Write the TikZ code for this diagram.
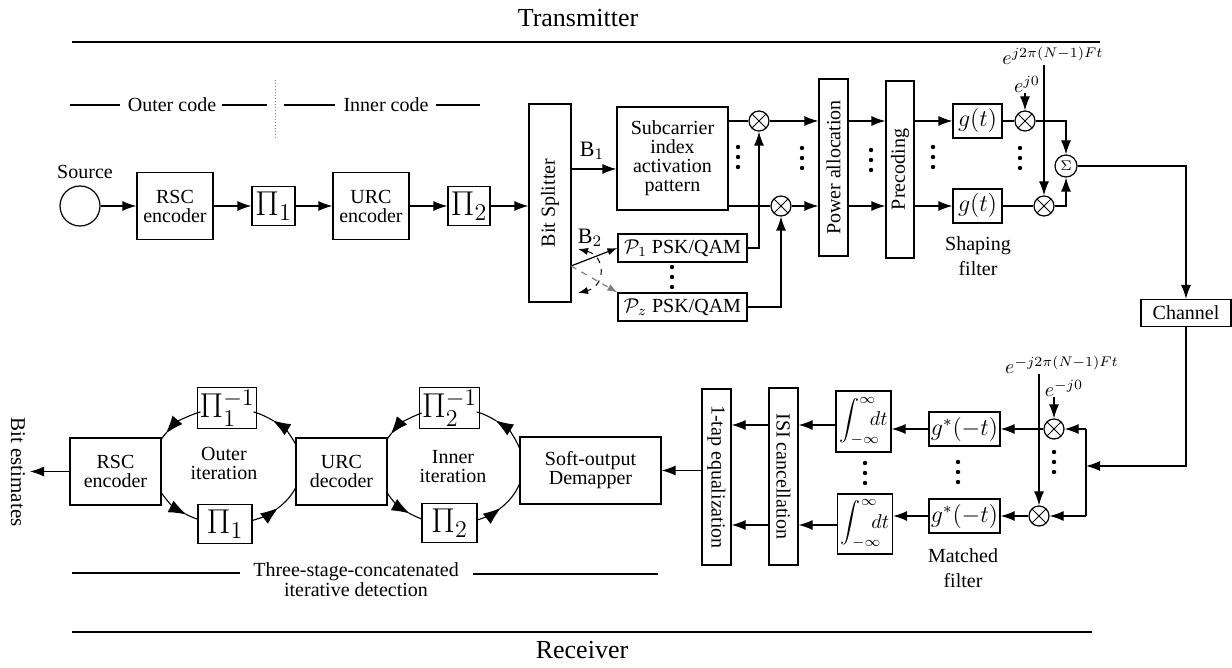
\documentclass[tikz,border=0pt]{standalone}
\usepackage{fontspec}
\usepackage{graphicx}
\setmainfont{Liberation Serif}
\usetikzlibrary{arrows.meta,calc}
\begin{document}
\begin{tikzpicture}[x=0.5pt,y=-0.5pt,line width=0.6pt,
  box/.style={draw,fill=white,inner sep=1pt,align=center,font=\fontsize{10}{9.5}\selectfont},
  pbox/.style={draw,fill=white,inner sep=1pt,font=\LARGE},
  mbox/.style={draw,fill=white,inner sep=1pt,font=\large},
  mul/.style={draw,fill=white,circle,minimum size=10pt,inner sep=0pt,
     path picture={\draw[line width=0.5pt] (path picture bounding box.north west) -- (path picture bounding box.south east) (path picture bounding box.north east) -- (path picture bounding box.south west);}},
  sigbox/.style={draw,fill=white,circle,minimum size=11pt,inner sep=0pt,font=\scriptsize},
  arr/.style={-{Latex[length=7pt,width=5pt]}},
  larr/.style={-{Latex[length=9pt,width=6.5pt]}},
  sarr/.style={-{Latex[length=5pt,width=3.6pt]}},
  loopln/.style={line width=0.55pt},
  lbl/.style={inner sep=0pt,align=center,font=\fontsize{10}{12.5}\selectfont},
  tlbl/.style={inner sep=0pt,align=center,font=\fontsize{10}{9.5}\selectfont},
  vd/.pic={\fill (0,-10) circle (2.2); \fill (0,0) circle (2.2); \fill (0,10) circle (2.2);}
]
\useasboundingbox (0,0) rectangle (1232,668);

% titles
\node[font=\fontsize{13}{15}\selectfont] (tx) at (578,18) {Transmitter};
\draw[line width=0.8pt] (72,42) -- (1100,42);
\node[font=\fontsize{13}{15}\selectfont] (rx) at (582,650) {Receiver};
\draw[line width=0.8pt] (72,632) -- (1092,632);

% code header
\node[lbl] (oc) at (172,105) {Outer code};
\node[lbl] (ic) at (386,105) {Inner code};
\draw (70,105) -- (120,105) (222,105) -- (267,105) (284,105) -- (335,105) (436,105) -- (480,105);
\draw[densely dotted, gray, line width=0.5pt] (275,80) -- (275,140);

% transmitter chain
\node[circle,draw,minimum size=20pt,inner sep=0pt] (src) at (80,206) {};
\node[lbl] (srcl) at (85,172) {Source};
\node[box,minimum width=38pt,minimum height=33.5pt] (rsc) at (175,206) {RSC\\encoder};
\node[pbox,minimum width=21.5pt,minimum height=19.5pt] (pi1) at (273.5,206) {$\Pi_1$};
\node[box,minimum width=38pt,minimum height=33.5pt] (urc) at (371,206) {URC\\encoder};
\node[pbox,minimum width=21pt,minimum height=19.5pt] (pi2) at (469,206) {$\Pi_2$};
\node[box,minimum width=21pt,minimum height=99pt] (bs) at (550,203) {\rotatebox{90}{Bit Splitter}};
\draw[arr] (src) -- (rsc);
\draw[arr] (rsc) -- (pi1);
\draw[arr] (pi1) -- (urc);
\draw[arr] (urc) -- (pi2);
\draw[arr] (pi2) -- (pi2 -| bs.west);

\node[box,minimum width=55.5pt,minimum height=51.5pt] (sc) at (672.5,158.5) {Subcarrier\\index\\activation\\pattern};
\coordinate (b1s) at (571,169);
\draw[arr] (b1s) -- (b1s -| sc.west);
\node[lbl,font=\fontsize{11}{12}\selectfont] (b1l) at (592,151) {B$_1$};

\node[box,minimum width=64.5pt,minimum height=14pt] (pa1) at (682.5,248) {$\mathcal{P}_1$ PSK/QAM};
\node[box,minimum width=64.5pt,minimum height=14pt] (paz) at (682.5,307) {$\mathcal{P}_z$ PSK/QAM};
\pic at (672,277) {vd};
\coordinate (b2s) at (571,266);
\draw[sarr] (b2s) -- (pa1.west);
\draw[sarr,gray,dashed] (b2s) -- (paz.north west);
\coordinate (cA) at (578,249);
\coordinate (cB) at (578,293);
\draw[dashed,line width=0.5pt,{Latex[length=5pt,width=3.6pt]}-{Latex[length=5pt,width=3.6pt]}] (cA) .. controls (606,256) and (606,286) .. (cB);
\node[lbl,font=\fontsize{11}{12}\selectfont] (b2l) at (590,238) {B$_2$};

\node[mul] (m1) at (759,121) {};
\node[mul] (m2) at (781,206) {};
\draw (sc.east |- m1) -- (m1);
\draw (sc.east |- m2) -- (m2);
\draw[arr] (pa1.east) -| (m1);
\draw[arr] (paz.east) -| (m2);
\pic at (738,157) {vd};

\node[box,minimum width=14.5pt,minimum height=88.5pt] (pa) at (833.5,167.5) {\rotatebox{90}{Power allocation}};
\node[box,minimum width=14pt,minimum height=88.5pt] (pc) at (900,169.5) {\rotatebox{90}{Precoding}};
\draw[arr] (m1) -- (m1 -| pa.west);
\draw[arr] (m2) -- (m2 -| pa.west);
\draw[arr] (pa.east |- m1) -- (pc.west |- m1);
\draw[arr] (pa.east |- m2) -- (pc.west |- m2);
\pic at (802,158) {vd};
\pic at (871,160) {vd};

\node[mbox,minimum width=24.5pt,minimum height=17pt] (g1) at (977.5,121) {$g(t)$};
\node[mbox,minimum width=24.5pt,minimum height=17pt] (g2) at (977.5,206) {$g(t)$};
\draw[arr] (pc.east |- g1) -- (g1);
\draw[arr] (pc.east |- g2) -- (g2);
\pic at (933,157) {vd};
\node[lbl] (shl) at (978,256) {Shaping\\filter};

\node[mul] (m3) at (1025,121) {};
\node[mul] (m4) at (1044,206) {};
\draw (g1) -- (m3);
\draw (g2) -- (m4);
\pic at (1020,158) {vd};
\node[sigbox] (sig) at (1066,166) {$\Sigma$};
\node[lbl] (e0) at (1027,84) {$e^{j0}$};
\draw[arr] (e0.south -| m3) -- (m3);
\node[lbl] (eN) at (1053,56) {$e^{j2\pi(N-1)Ft}$};
\draw[arr] (eN.south -| m4) -- (m4);
\draw[arr] (m3) -| (sig);
\draw[arr] (m4) -| (sig);

\node[box,font=\fontsize{10}{12}\selectfont,minimum width=45pt,minimum height=13.5pt] (ch) at (1186,313) {Channel};
\draw[arr] (sig) -| (ch);

% receiver front end
\coordinate (sp) at (1086,466);
\draw[arr] (ch) |- (sp);
\coordinate (spT) at (1086,429);
\coordinate (spB) at (1086,516);
\draw (spT) -- (spB);
\node[mul] (m5) at (1054,429) {};
\node[mul] (m6) at (1039,516) {};
\draw[arr] (spT) -- (m5);
\draw[arr] (spB) -- (m6);
\pic at (1054,462) {vd};
\node[lbl] (em0) at (1064,388) {$e^{-j0}$};
\draw[arr] (em0.south -| m5) -- (m5);
\node[lbl] (emN) at (1062,365) {$e^{-j2\pi(N-1)Ft}$};
\draw[arr] (emN.south -| m6) -- (m6);

\node[mbox,minimum width=34.5pt,minimum height=17pt] (gs1) at (964.5,429) {$g^*(-t)$};
\node[mbox,minimum width=34.5pt,minimum height=17pt] (gs2) at (964.5,516) {$g^*(-t)$};
\draw[arr] (m5) -- (gs1);
\draw[arr] (m6) -- (gs2);
\pic at (958,472) {vd};
\node[lbl] (mfl) at (963,568) {Matched\\filter};

\node[box,minimum width=27.5pt,minimum height=30.5pt,inner sep=0pt] (i1) at (863.5,421.5) {$\displaystyle\int_{-\infty}^{\infty}\mkern-12mu dt$};
\node[box,minimum width=27.5pt,minimum height=30pt,inner sep=0pt] (i2) at (865,524) {$\displaystyle\int_{-\infty}^{\infty}\mkern-12mu dt$};
\draw[arr] (gs1) -- (gs1 -| i1.east);
\draw[arr] (gs2) -- (gs2 -| i2.east);
\pic at (865,473) {vd};

\node[box,minimum width=14.5pt,minimum height=88.5pt] (isi) at (783.5,476.5) {\rotatebox{-90}{ISI cancellation}};
\node[box,minimum width=14.5pt,minimum height=88pt] (eq) at (716.5,477) {\rotatebox{-90}{1-tap equalization}};
\coordinate (r1) at (0,425);
\coordinate (r2) at (0,525);
\draw[arr] (i1.west |- r1) -- (isi.east |- r1);
\draw[arr] (i2.west |- r2) -- (isi.east |- r2);
\draw[arr] (isi.west |- r1) -- (eq.east |- r1);
\draw[arr] (isi.west |- r2) -- (eq.east |- r2);

\node[box,minimum width=70.5pt,minimum height=33.5pt] (dem) at (590.5,470.5) {Soft-output\\Demapper};
\draw[arr] (eq.west |- dem) -- (dem);

% iterative decoding loops
\node[box,minimum width=45.5pt,minimum height=33.5pt] (urcd) at (341.5,471.5) {URC\\decoder};
\node[box,minimum width=45.5pt,minimum height=33.5pt] (rscd) at (115.5,471.5) {RSC\\encoder};
\node[pbox,minimum width=27pt,minimum height=19.5pt] (pi1i) at (227,408) {$\Pi_1^{-1}$};
\node[pbox,minimum width=27pt,minimum height=19.5pt] (pi1r) at (225,524) {$\Pi_1$};
\node[pbox,minimum width=27.5pt,minimum height=19.5pt] (pi2i) at (449.5,408) {$\Pi_2^{-1}$};
\node[pbox,minimum width=27.5pt,minimum height=19.5pt] (pi2r) at (449.5,523) {$\Pi_2$};
\node[tlbl] (oil) at (224,463) {Outer\\iteration};
\node[tlbl] (iil) at (453,467) {Inner\\iteration};

\coordinate (occ) at (227,466);
\coordinate (icc) at (451,466);
% outer loop: URC decoder -> Pi1^-1 -> RSC -> Pi1 -> URC decoder
\draw[loopln,larr] ($(occ)+(-21:74 and 58)$) arc[start angle=-21,end angle=-52,x radius=74,y radius=58];
\draw[loopln] ($(occ)+(-51:74 and 58)$) arc[start angle=-51,end angle=-69,x radius=74,y radius=58];
\draw[loopln,larr] ($(occ)+(-111:74 and 58)$) arc[start angle=-111,end angle=-146,x radius=74,y radius=58];
\draw[loopln] ($(occ)+(-145:74 and 58)$) arc[start angle=-145,end angle=-153,x radius=74,y radius=58];
\draw[loopln,larr] ($(occ)+(153:74 and 58)$) arc[start angle=153,end angle=123,x radius=74,y radius=58];
\draw[loopln] ($(occ)+(124:74 and 58)$) arc[start angle=124,end angle=113,x radius=74,y radius=58];
\draw[loopln,larr] ($(occ)+(70:74 and 58)$) arc[start angle=70,end angle=46,x radius=74,y radius=58];
\draw[loopln] ($(occ)+(47:74 and 58)$) arc[start angle=47,end angle=21,x radius=74,y radius=58];
% inner loop: Demapper -> Pi2^-1 -> URC decoder -> Pi2 -> Demapper
\draw[loopln,larr] ($(icc)+(-17:72 and 58)$) arc[start angle=-17,end angle=-52,x radius=72,y radius=58];
\draw[loopln] ($(icc)+(-51:72 and 58)$) arc[start angle=-51,end angle=-69,x radius=72,y radius=58];
\draw[loopln,larr] ($(icc)+(-114:72 and 58)$) arc[start angle=-114,end angle=-147,x radius=72,y radius=58];
\draw[loopln] ($(icc)+(-146:72 and 58)$) arc[start angle=-146,end angle=-153,x radius=72,y radius=58];
\draw[loopln,larr] ($(icc)+(153:72 and 58)$) arc[start angle=153,end angle=125,x radius=72,y radius=58];
\draw[loopln] ($(icc)+(126:72 and 58)$) arc[start angle=126,end angle=114,x radius=72,y radius=58];
\draw[loopln,larr] ($(icc)+(69:72 and 58)$) arc[start angle=69,end angle=46,x radius=72,y radius=58];
\draw[loopln] ($(icc)+(47:72 and 58)$) arc[start angle=47,end angle=17,x radius=72,y radius=58];

\node[lbl,font=\fontsize{10.5}{12}\selectfont] (be) at (18,472) {\rotatebox{-90}{Bit estimates}};
\coordinate (beT) at (30,471.5);
\draw[arr] (rscd) -- (beT);

\node[lbl,font=\fontsize{10}{10}\selectfont] (ts) at (356,580) {Three-stage-concatenated\\iterative detection};
\draw (72,573) -- (240,573);
\draw (473,574) -- (658,574);
\end{tikzpicture}
\end{document}
